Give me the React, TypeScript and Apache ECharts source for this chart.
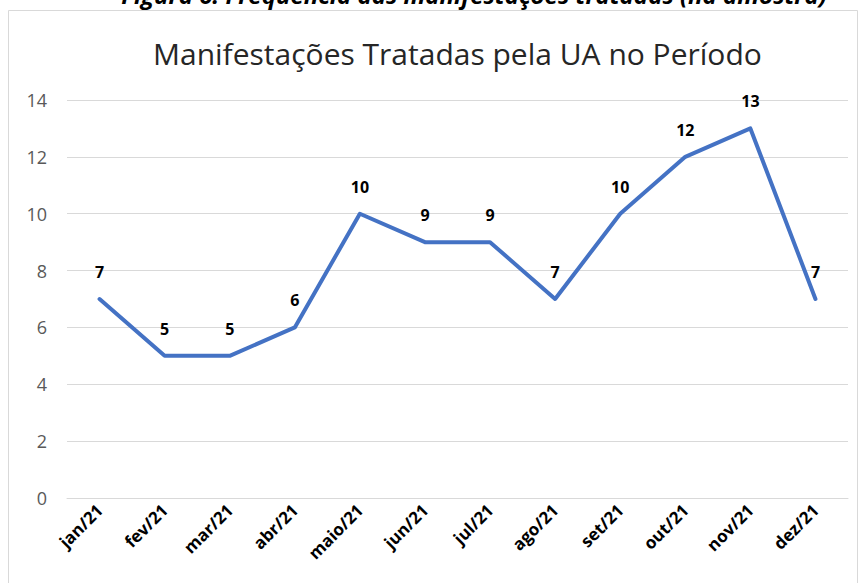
import React, { useEffect, useRef } from "react";
import * as echarts from "echarts";

const categories = ["jan/21", "fev/21", "mar/21", "abr/21", "maio/21", "jun/21", "jul/21", "ago/21", "set/21", "out/21", "nov/21", "dez/21"];
const values = [7, 5, 5, 6, 10, 9, 9, 7, 10, 12, 13, 7];
const titleText = "Manifestações Tratadas pela UA no Período";
const captionText = "Figura 6: Frequência das manifestações tratadas (na amostra)";

export default function App() {
  const ref = useRef<HTMLDivElement>(null);
  useEffect(() => {
    const chart = echarts.init(ref.current!, null, { renderer: "svg" });
    chart.setOption({
      animation: false,
      backgroundColor: "#ffffff",
      graphic: [
        {
          type: "rect",
          shape: { x: 8.5, y: 10.5, width: 849, height: 600 },
          style: { fill: "none", stroke: "#d9d9d9", lineWidth: 1 },
          silent: true,
        },
        {
          type: "text",
          x: 474,
          y: 6,
          style: {
            text: captionText,
            font: "italic bold 24px 'Open Sans'",
            fill: "#000000",
            textAlign: "center",
            textVerticalAlign: "bottom",
          },
        },
      ],
      title: {
        text: titleText,
        left: 148,
        top: 33,
        textStyle: { fontFamily: "'Open Sans'", fontSize: 30, fontWeight: "normal", color: "#262626" },
      },
      grid: { left: 67, right: 12, top: 100, bottom: 85, containLabel: false },
      xAxis: {
        type: "category",
        data: categories,
        boundaryGap: true,
        axisLine: { show: true, lineStyle: { color: "#d9d9d9", width: 1 } },
        axisTick: { show: false },
        axisLabel: {
          rotate: 45,
          interval: 0,
          margin: 9,
          fontFamily: "'Open Sans'",
          fontWeight: "bold",
          fontSize: 17,
          color: "#000000",
        },
      },
      yAxis: {
        type: "value",
        min: 0,
        max: 14,
        interval: 2,
        axisLine: { show: false },
        axisTick: { show: false },
        splitLine: { lineStyle: { color: "#d9d9d9", width: 1 } },
        axisLabel: { fontFamily: "'Open Sans'", fontSize: 18, color: "#595959", margin: 20 },
      },
      series: [
        {
          type: "line",
          data: values,
          symbol: "circle",
          symbolSize: 0,
          showSymbol: true,
          itemStyle: { color: "#4472C4" },
          lineStyle: { color: "#4472C4", width: 4, cap: "round", join: "round" },
          label: {
            show: true,
            position: "top",
            distance: 19,
            fontFamily: "'Open Sans'",
            fontWeight: "bold",
            fontSize: 16,
            color: "#000000",
          },
        },
      ],
    });
    return () => chart.dispose();
  }, []);
  return <div ref={ref} style={{ position: "fixed", left: 0, top: 0, width: 860, height: 583 }} />;
}
